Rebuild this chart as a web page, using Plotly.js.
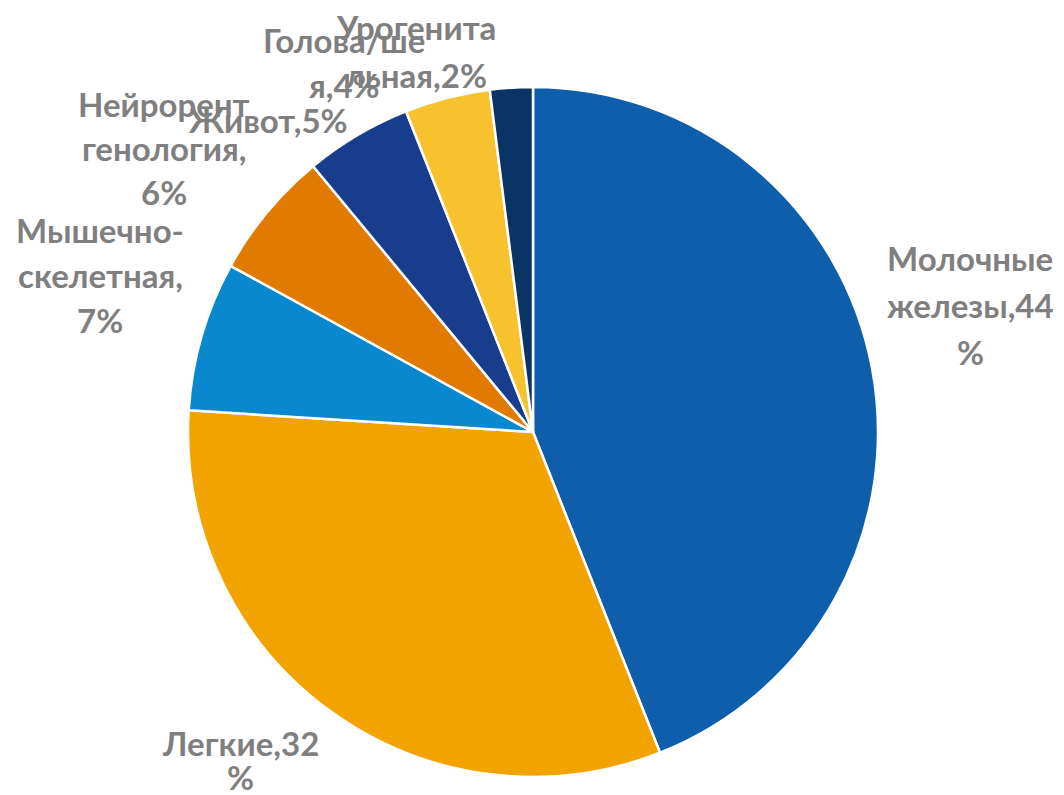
<!DOCTYPE html>
<html><head><meta charset="utf-8">
<script src="https://cdn.plot.ly/plotly-3.0.1.min.js"></script>
<style>html,body{margin:0;padding:0;background:#fff}#chart{width:1064px;height:795px}</style>
</head><body><div id="chart"></div>
<script>
var categories = ["Молочные железы","Легкие","Мышечно-скелетная","Нейрорентгенология","Живот","Голова/шея","Урогенитальная"];
var values = [44, 32, 7, 6, 5, 4, 2];
var colors = ["#0F5EAB","#F2A300","#0A88CF","#E07A00","#173D8C","#F7C22E","#0B3466"];
// label lines as wrapped in the original chart
var labelLines = [
  ["Молочные","железы,44","%"],
  ["Легкие,32","%"],
  ["Мышечно-","скелетная,","7%"],
  ["Нейрорент","генология,","6%"],
  ["Живот,5%"],
  ["Голова/ше","я,4%"],
  ["Урогенита","льная,2%"]
];
// label anchor (center x, first line y) in pixels, and line spacing
var labelPos = [[970,258,47],[240,743,34],[100,230,45],[164,104,44],[268,120,0],[344,40,45],[416,27,48]];

var W=1064,H=795;
var cx=533, cy=432, r=345;
var annotations=[];
labelLines.forEach(function(lines,i){
  lines.forEach(function(t,j){
    annotations.push({
      xref:'paper',yref:'paper',
      x:labelPos[i][0]/W, y:1-(labelPos[i][1]+j*labelPos[i][2])/H,
      xanchor:'center',yanchor:'middle',showarrow:false,borderpad:0,
      text:'<b>'+t+'</b>',
      font:{family:'Lato, "Open Sans", sans-serif',size:33,color:'#7F7F7F'}
    });
  });
});

var trace={
  type:'pie',
  labels:categories, values:values,
  sort:false, direction:'clockwise', rotation:0,
  marker:{colors:colors, line:{color:'#FFFFFF',width:2.5}},
  textinfo:'none', hoverinfo:'label+percent',
  domain:{x:[(cx-r)/W,(cx+r)/W], y:[1-(cy+r)/H,1-(cy-r)/H]}
};
Plotly.newPlot('chart',[trace],{
  width:W,height:H,margin:{l:0,r:0,t:0,b:0},
  showlegend:false, paper_bgcolor:'#fff',
  annotations:annotations
},{displayModeBar:false,staticPlot:true});
</script></body></html>
